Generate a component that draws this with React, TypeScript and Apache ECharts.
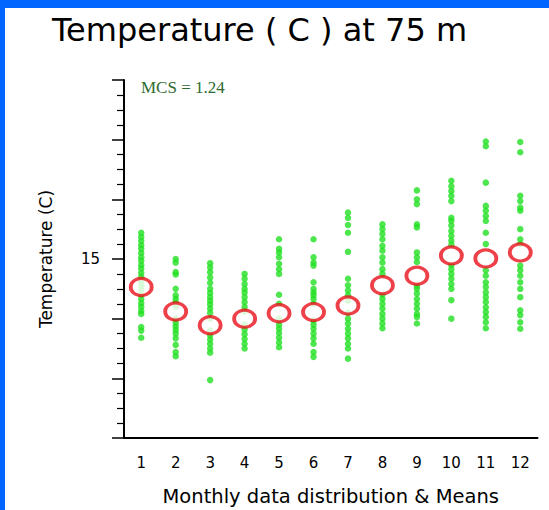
import React, { useEffect, useRef } from "react";
import * as echarts from "echarts";

const months = ["1", "2", "3", "4", "5", "6", "7", "8", "9", "10", "11", "12"];

const m1 = [15.44, 15.37, 15.3, 15.23, 15.17, 15.1, 15.03, 14.97, 14.9, 14.84, 14.77, 14.7, 14.62, 14.55, 14.48, 14.4, 14.33, 14.26, 14.2, 14.13, 14.08, 13.86, 13.8, 13.68];
const m2 = [15.0, 14.94, 14.78, 14.74, 14.5, 14.39, 14.33, 14.27, 14.2, 14.0, 13.93, 13.87, 13.81, 13.75, 13.67, 13.56, 13.44, 13.37];
const m3 = [14.93, 14.86, 14.78, 14.69, 14.6, 14.5, 14.43, 14.36, 14.3, 14.24, 14.17, 14.1, 14.0, 13.8, 13.72, 13.65, 13.58, 13.5, 13.43, 12.97];
const m4 = [14.75, 14.67, 14.58, 14.5, 14.44, 14.36, 14.28, 14.2, 14.12, 13.9, 13.82, 13.74, 13.66, 13.58, 13.5];
const m5 = [15.33, 15.17, 15.11, 15.03, 14.92, 14.83, 14.75, 14.4, 14.25, 14.0, 13.9, 13.83, 13.76, 13.68, 13.6, 13.52];
const m6 = [15.33, 15.03, 14.94, 14.89, 14.61, 14.5, 14.44, 14.39, 14.33, 14.25, 13.97, 13.9, 13.83, 13.75, 13.67, 13.58, 13.44, 13.36];
const m7 = [15.78, 15.69, 15.57, 15.44, 15.12, 14.67, 14.56, 14.47, 14.39, 14.3, 14.1, 14.0, 13.92, 13.83, 13.75, 13.67, 13.58, 13.5, 13.33];
const m8 = [15.58, 15.5, 15.42, 15.33, 15.22, 15.14, 15.03, 14.94, 14.83, 14.75, 14.4, 14.33, 14.25, 14.17, 14.08, 14.0, 13.92, 13.84];
const m9 = [16.15, 16.0, 15.92, 15.58, 15.53, 15.11, 15.03, 14.95, 14.55, 14.5, 14.42, 14.33, 14.25, 14.17, 14.08, 14.03, 13.92];
const m10 = [16.31, 16.22, 16.14, 16.06, 15.97, 15.69, 15.64, 15.56, 15.47, 15.39, 15.31, 15.24, 14.9, 14.83, 14.75, 14.67, 14.58, 14.5, 14.31, 14.0];
const m11 = [16.97, 16.89, 16.28, 15.89, 15.81, 15.72, 15.64, 15.44, 15.25, 14.81, 14.72, 14.61, 14.53, 14.44, 14.36, 14.28, 14.19, 14.11, 14.03, 13.94, 13.84];
const m12 = [16.96, 16.79, 16.06, 15.97, 15.86, 15.81, 15.5, 15.33, 15.25, 14.89, 14.81, 14.72, 14.61, 14.5, 14.36, 14.14, 14.06, 13.94, 13.83];

const monthlyData = [m1, m2, m3, m4, m5, m6, m7, m8, m9, m10, m11, m12];
const means = [14.53, 14.12, 13.89, 14.0, 14.09, 14.11, 14.22, 14.56, 14.72, 15.06, 15.01, 15.11];
const yLabelShown = [15];

const FONT = "DejaVu Sans";

export default function App() {
  const ref = useRef<HTMLDivElement>(null);
  useEffect(() => {
    document.body.style.margin = "0";
    if (!ref.current) return;
    const chart = echarts.init(ref.current, null, { renderer: "svg" });
    const dots: number[][] = [];
    monthlyData.forEach((arr, i) => arr.forEach((v) => dots.push([i, v])));
    chart.setOption({
      animation: false,
      backgroundColor: "#ffffff",
      title: {
        text: "Temperature ( C ) at 75 m",
        left: 47,
        top: 9,
        textStyle: { fontFamily: FONT, fontSize: 32, fontWeight: "normal", color: "#000" },
      },
      grid: { left: 124, right: 11.5, top: 80, bottom: 72, outerBoundsMode: "none", containLabel: false },
      xAxis: {
        type: "category",
        data: months,
        boundaryGap: true,
        axisLine: { lineStyle: { color: "#000", width: 2 } },
        axisTick: { alignWithLabel: true, length: 8, lineStyle: { color: "#000", width: 1.5 } },
        axisLabel: { fontFamily: FONT, fontSize: 15, color: "#000", margin: 17 },
        splitLine: { show: false },
        name: "Monthly data distribution & Means",
        nameLocation: "middle",
        nameGap: 48,
        nameTextStyle: { fontFamily: FONT, fontSize: 19.5, color: "#000" },
      },
      yAxis: {
        type: "value",
        min: 12,
        max: 18,
        interval: 1,
        axisLine: { show: true, lineStyle: { color: "#000", width: 2 } },
        axisTick: { show: true, length: 12, lineStyle: { color: "#000", width: 1.5 } },
        minorTick: { show: true, splitNumber: 4, length: 7, lineStyle: { color: "#000", width: 1.2 } },
        axisLabel: {
          fontFamily: FONT,
          fontSize: 15,
          color: "#000",
          margin: 24,
          formatter: (v: number) => (yLabelShown.includes(v) ? String(v) : ""),
        },
        splitLine: { show: false },
        minorSplitLine: { show: false },
        name: "Temperature (C)",
        nameLocation: "middle",
        nameRotate: 90,
        nameGap: 70,
        nameTextStyle: { fontFamily: FONT, fontSize: 17, color: "#000" },
      },
      series: [
        {
          type: "scatter",
          data: dots,
          symbol: "circle",
          symbolSize: 6.5,
          itemStyle: { color: "#22e022" },
          z: 2,
        },
        {
          type: "scatter",
          data: means.map((v, i) => [i, v]),
          symbol: "circle",
          symbolSize: [21, 17],
          itemStyle: { color: "#ffffff", borderColor: "#e8101a", borderWidth: 3.5 },
          z: 3,
        },
      ],
      graphic: [
        {
          type: "text",
          left: 141,
          top: 79,
          style: { text: "MCS = 1.24", fill: "#2e6b2e", font: '17px "Liberation Serif"' },
        },
        { type: "rect", left: 0, top: 0, shape: { width: 549, height: 8 }, style: { fill: "#0066ff" }, z: 100 },
        { type: "rect", left: 0, top: 0, shape: { width: 5, height: 510 }, style: { fill: "#0066ff" }, z: 100 },
      ],
    });
    return () => chart.dispose();
  }, []);
  return <div ref={ref} style={{ position: "absolute", left: 0, top: 0, width: 549, height: 510 }} />;
}
